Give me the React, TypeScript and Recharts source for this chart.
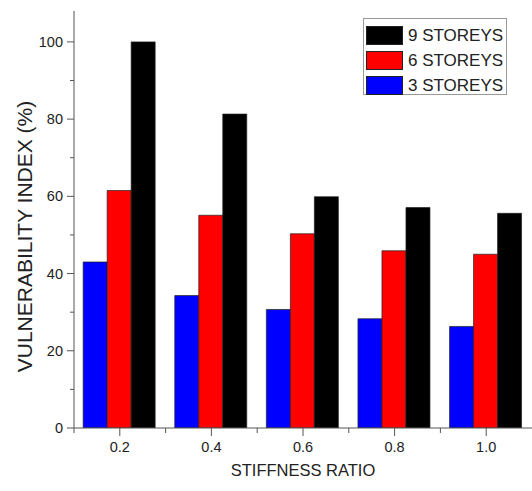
import React from 'react';
import { BarChart, Bar, XAxis, YAxis, Legend } from 'recharts';

const categories = ['0.2', '0.4', '0.6', '0.8', '1.0'];
const storeys3 = [43.0, 34.3, 30.7, 28.3, 26.3];
const storeys6 = [61.5, 55.1, 50.3, 45.9, 45.0];
const storeys9 = [100, 81.3, 59.9, 57.1, 55.6];
const yTicks = [0, 10, 20, 30, 40, 50, 60, 70, 80, 90, 100];
const seriesNames = ['3 STOREYS', '6 STOREYS', '9 STOREYS'];
const seriesColors = ['#0000ff', '#ff0000', '#000000'];

const data = categories.map((c, i) => ({
  ratio: c,
  s3: storeys3[i],
  s6: storeys6[i],
  s9: storeys9[i],
}));

const FONT = '"Liberation Sans", Arial, sans-serif';
const AXIS_COLOR = '#555';
const TEXT_COLOR = '#222';

const Y_TICK_SIZE = 7;
const Y_TICK_MARGIN = 4;
const X_TICK_SIZE = 8;
const X_TICK_MARGIN = 4;

const YTick = (props: any) => {
  const { x, y, payload } = props;
  const axisX = x + Y_TICK_SIZE + Y_TICK_MARGIN;
  const v = payload.value;
  const major = v % 20 === 0;
  return (
    <g>
      <line x1={axisX - (major ? 7 : 4)} x2={axisX} y1={y} y2={y} stroke={AXIS_COLOR} strokeWidth={1} />
      {major && (
        <text x={axisX - 11} y={y + 5} textAnchor="end" fontSize={14.5} fill={TEXT_COLOR} fontFamily={FONT}>
          {v}
        </text>
      )}
    </g>
  );
};

const XTick = (props: any) => {
  const { x, y, payload, width } = props;
  const axisY = y - X_TICK_SIZE - X_TICK_MARGIN;
  const band = (typeof width === 'number' ? width : 458) / categories.length;
  const bx = x - band / 2;
  return (
    <g>
      <line x1={x} x2={x} y1={axisY} y2={axisY + 8} stroke={AXIS_COLOR} strokeWidth={1} />
      <line x1={bx} x2={bx} y1={axisY} y2={axisY + 5} stroke={AXIS_COLOR} strokeWidth={1} />
      <text x={x} y={axisY + 24} textAnchor="middle" fontSize={14.5} fill={TEXT_COLOR} fontFamily={FONT}>
        {payload.value}
      </text>
    </g>
  );
};

const YTitle = (props: any) => {
  const vb = props.viewBox || { x: 0, y: 11, width: 74, height: 417 };
  const cx = 24;
  const cy = vb.y + vb.height / 2 + 17;
  return (
    <text
      x={cx}
      y={cy}
      transform={`rotate(-90, ${cx}, ${cy})`}
      textAnchor="middle"
      dominantBaseline="central"
      fontSize={21}
      fill={TEXT_COLOR}
      fontFamily={FONT}
    >
      VULNERABILITY INDEX (%)
    </text>
  );
};

const XTitle = (props: any) => {
  const vb = props.viewBox || { x: 74, y: 428, width: 458, height: 63 };
  const cx = vb.x + vb.width / 2;
  return (
    <text x={cx} y={476} textAnchor="middle" fontSize={16.5} fill={TEXT_COLOR} fontFamily={FONT}>
      STIFFNESS RATIO
    </text>
  );
};

const LegendBox = () => {
  const order = [2, 1, 0];
  return (
    <div
      style={{
        width: 144,
        height: 77,
        border: '1px solid #999',
        background: '#fff',
        boxSizing: 'border-box',
        paddingTop: 4,
        paddingLeft: 2,
      }}
    >
      {order.map((i) => (
        <div key={i} style={{ display: 'flex', alignItems: 'center', height: 25 }}>
          <div
            style={{
              width: 37,
              height: 19,
              background: seriesColors[i],
              border: '1px solid #222',
              boxSizing: 'border-box',
              flexShrink: 0,
            }}
          />
          <span style={{ marginLeft: 5, fontFamily: FONT, fontSize: 17, color: TEXT_COLOR, lineHeight: '19px', whiteSpace: 'nowrap' }}>
            {seriesNames[i]}
          </span>
        </div>
      ))}
    </div>
  );
};

export default function App() {
  return (
    <div style={{ position: 'absolute', left: 0, top: 0, width: 532, height: 491, background: '#fff' }}>
      <BarChart
        width={532}
        height={491}
        data={data}
        margin={{ top: 11, right: 0, bottom: 0, left: 0 }}
        barCategoryGap="10%"
        barGap={0}
      >
        <XAxis
          dataKey="ratio"
          height={63}
          stroke={AXIS_COLOR}
          tickLine={false}
          tickSize={X_TICK_SIZE}
          tickMargin={X_TICK_MARGIN}
          tick={<XTick />}
          interval={0}
          label={<XTitle />}
        />
        <YAxis
          width={74}
          domain={[0, 108]}
          ticks={yTicks}
          type="number"
          allowDataOverflow
          stroke={AXIS_COLOR}
          tickLine={false}
          tickSize={Y_TICK_SIZE}
          tickMargin={Y_TICK_MARGIN}
          tick={<YTick />}
          interval={0}
          label={<YTitle />}
        />
        <Legend
          layout="horizontal"
          verticalAlign="middle"
          align="center"
          content={<LegendBox />}
          wrapperStyle={{ position: 'absolute', left: 363, top: 18, width: 144, height: 77 }}
        />
        <Bar dataKey="s3" name={seriesNames[0]} fill={seriesColors[0]} stroke="#222" strokeWidth={0.7} isAnimationActive={false} />
        <Bar dataKey="s6" name={seriesNames[1]} fill={seriesColors[1]} stroke="#222" strokeWidth={0.7} isAnimationActive={false} />
        <Bar dataKey="s9" name={seriesNames[2]} fill={seriesColors[2]} stroke="#222" strokeWidth={0.7} isAnimationActive={false} />
      </BarChart>
    </div>
  );
}
